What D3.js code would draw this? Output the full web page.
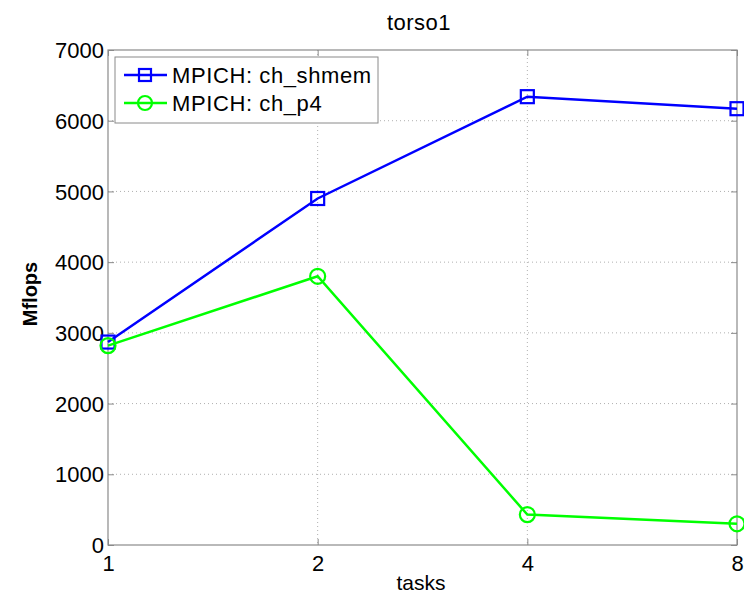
<!DOCTYPE html>
<html><head><meta charset="utf-8">
<script src="https://cdn.jsdelivr.net/npm/d3@7/dist/d3.min.js"></script>
<style>body{margin:0;background:#fff}text{font-family:"Liberation Sans",Arial,sans-serif;fill:#000}</style>
</head><body><svg id="c" width="744" height="596"></svg>
<script>
const tasks = [1, 2, 4, 8];
const shmem = [2870, 4900, 6340, 6170];
const p4 = [2820, 3800, 430, 300];
const yTicks = [0, 1000, 2000, 3000, 4000, 5000, 6000, 7000];
const seriesNames = ["MPICH: ch_shmem", "MPICH: ch_p4"];
const colors = ["#0000ff", "#00ff00"];

const svg = d3.select("#c");
const L = 108, R = 737, T = 50, B = 545;
const x = d3.scaleLog().base(2).domain([1, 8]).range([L, R]);
const y = d3.scaleLinear().domain([0, 7000]).range([B, T]);

// grid
const g = svg.append("g");
g.selectAll(".gx").data(tasks.slice(1, -1)).enter().append("line")
  .attr("x1", d => x(d)).attr("x2", d => x(d)).attr("y1", T).attr("y2", B)
  .attr("stroke", "#b0b0b0").attr("stroke-dasharray", "1,3");
g.selectAll(".gy").data(yTicks.slice(1, -1)).enter().append("line")
  .attr("y1", d => y(d)).attr("y2", d => y(d)).attr("x1", L).attr("x2", R)
  .attr("stroke", "#b0b0b0").attr("stroke-dasharray", "1,3");

// box
svg.append("rect").attr("x", L).attr("y", T).attr("width", R - L).attr("height", B - T)
  .attr("fill", "none").attr("stroke", "#8a8a8a").attr("stroke-width", 1.2);

// axes
const xa = svg.append("g").attr("transform", `translate(0,${B})`)
  .call(d3.axisBottom(x).tickValues(tasks).tickFormat(d3.format("d")).tickSizeInner(-6).tickSizeOuter(0).tickPadding(10));
const xa2 = svg.append("g").attr("transform", `translate(0,${T})`)
  .call(d3.axisTop(x).tickValues(tasks).tickFormat("").tickSizeInner(-6).tickSizeOuter(0));
const ya = svg.append("g").attr("transform", `translate(${L},0)`)
  .call(d3.axisLeft(y).tickValues(yTicks).tickFormat(d3.format("d")).tickSizeInner(-6).tickSizeOuter(0).tickPadding(4));
const ya2 = svg.append("g").attr("transform", `translate(${R},0)`)
  .call(d3.axisRight(y).tickValues(yTicks).tickFormat("").tickSizeInner(-6).tickSizeOuter(0));
[xa, xa2, ya, ya2].forEach(a => {
  a.select(".domain").remove();
  a.selectAll("line").attr("stroke", "#8a8a8a");
  a.selectAll("text").style("font-size", "22px").attr("fill", "#000");
});
ya.selectAll("text").attr("dy", "0.35em");
xa.selectAll("text").attr("dy", "0.72em");

// series
const series = [shmem, p4];
const line = d3.line().x((d, i) => x(tasks[i])).y(d => y(d));
series.forEach((s, k) => {
  svg.append("path").datum(s).attr("d", line).attr("fill", "none")
    .attr("stroke", colors[k]).attr("stroke-width", 2.5);
  if (k === 0) {
    svg.selectAll(".sq").data(s).enter().append("rect")
      .attr("x", (d, i) => x(tasks[i]) - 6.5).attr("y", d => y(d) - 6.5)
      .attr("width", 13).attr("height", 13).attr("fill", "none")
      .attr("stroke", colors[k]).attr("stroke-width", 2.2);
  } else {
    svg.selectAll(".ci").data(s).enter().append("circle")
      .attr("cx", (d, i) => x(tasks[i])).attr("cy", d => y(d)).attr("r", 7.5)
      .attr("fill", "none").attr("stroke", colors[k]).attr("stroke-width", 2.2);
  }
});

// legend
const lg = svg.append("g");
lg.append("rect").attr("x", 115).attr("y", 57).attr("width", 263).attr("height", 66)
  .attr("fill", "#fff").attr("stroke", "#8a8a8a").attr("stroke-width", 1);
seriesNames.forEach((n, k) => {
  const yy = 75 + k * 28;
  lg.append("line").attr("x1", 124).attr("x2", 167).attr("y1", yy).attr("y2", yy)
    .attr("stroke", colors[k]).attr("stroke-width", 2.5);
  if (k === 0) lg.append("rect").attr("x", 139).attr("y", yy - 6).attr("width", 12).attr("height", 12)
    .attr("fill", "none").attr("stroke", colors[k]).attr("stroke-width", 2.2);
  else lg.append("circle").attr("cx", 145).attr("cy", yy).attr("r", 7)
    .attr("fill", "none").attr("stroke", colors[k]).attr("stroke-width", 2.2);
  lg.append("text").attr("x", 172).attr("y", yy).attr("dy", "0.36em")
    .style("font-size", "22px").style("letter-spacing", "0.6px").text(n);
});

// labels
svg.append("text").attr("x", 419).attr("y", 30).attr("text-anchor", "middle")
  .style("font-size", "22px").style("letter-spacing", "0.5px").text("torso1");
svg.append("text").attr("x", 421).attr("y", 590).attr("text-anchor", "middle")
  .style("font-size", "21px").text("tasks");
svg.append("text").attr("transform", "translate(37,294) rotate(-90)").attr("text-anchor", "middle")
  .style("font-size", "20px").style("font-weight", "bold").text("Mflops");
</script></body></html>
